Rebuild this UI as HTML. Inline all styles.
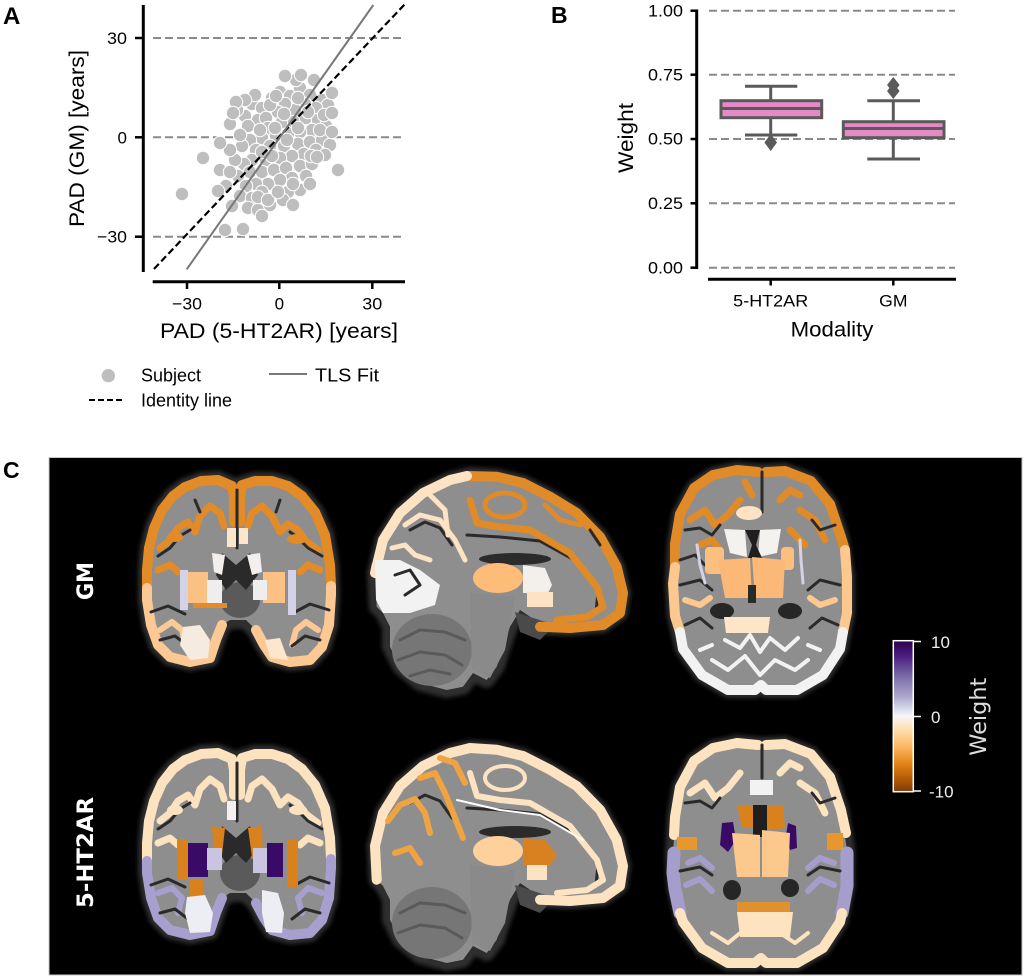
<!DOCTYPE html>
<html><head><meta charset="utf-8"><style>html,body{margin:0;padding:0;background:#fff;}svg{display:block;}</style></head>
<body>
<svg width="1024" height="978" viewBox="0 0 1024 978" xmlns="http://www.w3.org/2000/svg" font-family="'Liberation Sans', Arial, sans-serif">
<defs>
<linearGradient id="cb" x1="0" y1="0" x2="0" y2="1">
 <stop offset="0" stop-color="#2d004b"/>
 <stop offset="0.1" stop-color="#4a1d80"/>
 <stop offset="0.25" stop-color="#8073ac"/>
 <stop offset="0.38" stop-color="#b2abd2"/>
 <stop offset="0.45" stop-color="#d8daeb"/>
 <stop offset="0.5" stop-color="#f7f7f7"/>
 <stop offset="0.58" stop-color="#fee0b6"/>
 <stop offset="0.7" stop-color="#fdb863"/>
 <stop offset="0.82" stop-color="#e08214"/>
 <stop offset="0.92" stop-color="#b35806"/>
 <stop offset="1" stop-color="#7f3b08"/>
</linearGradient>
<filter id="bl" x="-10%" y="-10%" width="120%" height="120%"><feGaussianBlur stdDeviation="2"/></filter>
<path id="cor" d="M236,497 L232,486 L218,480 L201,481 L185,487 L173,496 L162,510 L154,528 L149,548 L147,570 L147,600 L151,625 L158,645 L170,657 L190,662 L210,658 L216,640 L222,625 L230,620 L246,620 L256,630 L264,645 L272,657 L290,662 L310,660 L322,647 L329,625 L331,595 L330,565 L325,535 L315,512 L302,496 L288,486 L272,481 L255,481 L242,485 L238,497 Z"/>
<path id="sag" d="M376.7,606.7 L375,573 L383,540 L400,513 L423,493 L450,480 L470,475 L496.7,476.7 L523,483 L550,496.7 L576.7,513 L600,536.7 L616.7,566.7 L623,593 L620,613 L603,625 L570,628 L540,626.7 L530,616.7 L520,610 L510,626.7 L503,646.7 L496.7,666.7 L486.7,680 L473,673 L463,686.7 L446.7,690 L420,683 L400,666.7 L390,646.7 L390,626.7 L383,613 Z"/>
<path id="axi" d="M758,472 L737,470 L713,475 L694,488 L680,514 L675,544 L673,583.5 L675,616 L683,649 L702,675 L728,690 L755,690 L761,685 L766,690 L797,690 L823,675 L840,649 L847,613 L847,577 L841,537 L830,504 L811,481 L785,471 L766,472 Z"/>
</defs>
<rect width="1024" height="978" fill="#fff"/>

<!-- ============ PANEL A ============ -->
<text x="3" y="24" font-weight="bold" font-size="24" fill="#000">A</text>
<g stroke="#8a8a8a" stroke-width="2" stroke-dasharray="8,4">
<line x1="153" y1="38" x2="405" y2="38"/>
<line x1="153" y1="137.3" x2="405" y2="137.3"/>
<line x1="153" y1="236.7" x2="405" y2="236.7"/>
</g>
<g fill="#bebebe" stroke="#fff" stroke-width="1">
<circle cx="252" cy="104" r="6.7"/><circle cx="262" cy="108" r="6.7"/><circle cx="245" cy="116" r="6.7"/><circle cx="258" cy="120" r="6.7"/><circle cx="248" cy="126" r="6.7"/><circle cx="266" cy="118" r="6.7"/><circle cx="272" cy="98" r="6.7"/><circle cx="280" cy="92" r="6.7"/><circle cx="290" cy="96" r="6.7"/><circle cx="300" cy="88" r="6.7"/><circle cx="310" cy="95" r="6.7"/><circle cx="322" cy="100" r="6.7"/><circle cx="328" cy="105" r="6.7"/><circle cx="316" cy="108" r="6.7"/><circle cx="305" cy="104" r="6.7"/><circle cx="295" cy="110" r="6.7"/><circle cx="285" cy="104" r="6.7"/><circle cx="278" cy="112" r="6.7"/><circle cx="268" cy="128" r="6.7"/><circle cx="282" cy="122" r="6.7"/><circle cx="294" cy="122" r="6.7"/><circle cx="306" cy="118" r="6.7"/><circle cx="318" cy="120" r="6.7"/><circle cx="326" cy="126" r="6.7"/><circle cx="312" cy="130" r="6.7"/><circle cx="300" cy="132" r="6.7"/><circle cx="288" cy="134" r="6.7"/><circle cx="276" cy="136" r="6.7"/><circle cx="262" cy="138" r="6.7"/><circle cx="250" cy="140" r="6.7"/><circle cx="242" cy="146" r="6.7"/><circle cx="256" cy="150" r="6.7"/><circle cx="270" cy="146" r="6.7"/><circle cx="284" cy="146" r="6.7"/><circle cx="298" cy="144" r="6.7"/><circle cx="310" cy="142" r="6.7"/><circle cx="322" cy="140" r="6.7"/><circle cx="316" cy="150" r="6.7"/><circle cx="304" cy="154" r="6.7"/><circle cx="292" cy="156" r="6.7"/><circle cx="280" cy="158" r="6.7"/><circle cx="266" cy="160" r="6.7"/><circle cx="252" cy="160" r="6.7"/><circle cx="244" cy="164" r="6.7"/><circle cx="238" cy="176" r="6.7"/><circle cx="250" cy="172" r="6.7"/><circle cx="262" cy="172" r="6.7"/><circle cx="274" cy="170" r="6.7"/><circle cx="286" cy="168" r="6.7"/><circle cx="300" cy="166" r="6.7"/><circle cx="312" cy="164" r="6.7"/><circle cx="306" cy="176" r="6.7"/><circle cx="292" cy="178" r="6.7"/><circle cx="280" cy="180" r="6.7"/><circle cx="268" cy="184" r="6.7"/><circle cx="256" cy="184" r="6.7"/><circle cx="246" cy="186" r="6.7"/><circle cx="240" cy="196" r="6.7"/><circle cx="252" cy="198" r="6.7"/><circle cx="300" cy="190" r="6.7"/><circle cx="310" cy="184" r="6.7"/><circle cx="288" cy="192" r="6.7"/><circle cx="275" cy="128" r="6.7"/><circle cx="287" cy="140" r="6.7"/><circle cx="260" cy="130" r="6.7"/><circle cx="235" cy="160" r="6.7"/><circle cx="230" cy="150" r="6.7"/><circle cx="314" cy="80" r="6.7"/><circle cx="296" cy="80" r="6.7"/><circle cx="324" cy="115" r="6.7"/><circle cx="270" cy="105" r="6.7"/><circle cx="255" cy="95" r="6.7"/><circle cx="245" cy="100" r="6.7"/><circle cx="320" cy="130" r="6.7"/><circle cx="330" cy="145" r="6.7"/><circle cx="262" cy="192" r="6.7"/><circle cx="272" cy="156" r="6.7"/><circle cx="284" cy="114" r="6.7"/><circle cx="298" cy="98" r="6.7"/><circle cx="308" cy="112" r="6.7"/><circle cx="240" cy="135" r="6.7"/><circle cx="226" cy="186" r="6.7"/><circle cx="232" cy="206" r="6.7"/><circle cx="248" cy="208" r="6.7"/><circle cx="258" cy="210" r="6.7"/><circle cx="270" cy="205" r="6.7"/><circle cx="283" cy="200" r="6.7"/><circle cx="230" cy="124" r="6.7"/><circle cx="237" cy="110" r="6.7"/><circle cx="262" cy="152" r="6.7"/><circle cx="298" cy="128" r="6.7"/><circle cx="276" cy="96" r="6.7"/><circle cx="311" cy="156" r="6.7"/><circle cx="325" cy="155" r="6.7"/>
<circle cx="182" cy="194" r="6.7"/><circle cx="203" cy="158" r="6.7"/><circle cx="218" cy="191" r="6.7"/><circle cx="225" cy="230" r="6.7"/><circle cx="243" cy="229" r="6.7"/><circle cx="262" cy="216" r="6.7"/><circle cx="293" cy="205" r="6.7"/><circle cx="338" cy="170" r="6.7"/><circle cx="220" cy="143" r="6.7"/><circle cx="236" cy="102" r="6.7"/><circle cx="233" cy="113" r="6.7"/><circle cx="285" cy="76" r="6.7"/><circle cx="301" cy="75" r="6.7"/><circle cx="332" cy="93" r="6.7"/><circle cx="332" cy="113" r="6.7"/><circle cx="332" cy="132" r="6.7"/><circle cx="317" cy="157" r="6.7"/><circle cx="293" cy="184" r="6.7"/><circle cx="220" cy="170" r="6.7"/><circle cx="230" cy="172" r="6.7"/><circle cx="258" cy="197" r="6.7"/><circle cx="268" cy="200" r="6.7"/><circle cx="278" cy="192" r="6.7"/>
</g>
<line x1="154" y1="269" x2="405" y2="4" stroke="#000" stroke-width="2.2" stroke-dasharray="7,3.5"/>
<line x1="186.7" y1="269.3" x2="373.3" y2="5" stroke="#777" stroke-width="2"/>
<line x1="143.3" y1="5" x2="143.3" y2="272" stroke="#000" stroke-width="3"/>
<line x1="152.7" y1="281.7" x2="405" y2="281.7" stroke="#000" stroke-width="3"/>
<g stroke="#000" stroke-width="2.5">
<line x1="135" y1="38" x2="143" y2="38"/><line x1="135" y1="137.3" x2="143" y2="137.3"/><line x1="135" y1="236.7" x2="143" y2="236.7"/>
<line x1="187" y1="281.7" x2="187" y2="289"/><line x1="279.3" y1="281.7" x2="279.3" y2="289"/><line x1="372.3" y1="281.7" x2="372.3" y2="289"/>
</g>
<g font-size="17" fill="#000">
<text x="127" y="44" text-anchor="end" textLength="20" lengthAdjust="spacingAndGlyphs">30</text>
<text x="127" y="143.3" text-anchor="end">0</text>
<text x="127" y="242.7" text-anchor="end" textLength="30" lengthAdjust="spacingAndGlyphs">−30</text>
<text x="187" y="309.5" text-anchor="middle" textLength="30" lengthAdjust="spacingAndGlyphs">−30</text>
<text x="279.3" y="309.5" text-anchor="middle">0</text>
<text x="372.3" y="309.5" text-anchor="middle" textLength="20" lengthAdjust="spacingAndGlyphs">30</text>
</g>
<text x="160" y="338" font-size="21.5" textLength="238" lengthAdjust="spacingAndGlyphs">PAD (5-HT2AR) [years]</text>
<text transform="translate(84,227) rotate(-90)" font-size="21.5" textLength="177" lengthAdjust="spacingAndGlyphs">PAD (GM) [years]</text>
<circle cx="108.3" cy="375.7" r="6.7" fill="#bebebe"/>
<text x="141" y="381.7" font-size="18" textLength="60" lengthAdjust="spacingAndGlyphs">Subject</text>
<line x1="269" y1="374" x2="307" y2="374" stroke="#777" stroke-width="2"/>
<text x="315" y="381.7" font-size="18" textLength="64" lengthAdjust="spacingAndGlyphs">TLS Fit</text>
<line x1="89" y1="400" x2="125" y2="400" stroke="#000" stroke-width="2" stroke-dasharray="6,3"/>
<text x="141" y="406.5" font-size="18" textLength="91" lengthAdjust="spacingAndGlyphs">Identity line</text>

<!-- ============ PANEL B ============ -->
<text x="551" y="23" font-weight="bold" font-size="23" fill="#000">B</text>
<g stroke="#8a8a8a" stroke-width="2" stroke-dasharray="8,4">
<line x1="709" y1="10.7" x2="955" y2="10.7"/>
<line x1="709" y1="74.7" x2="955" y2="74.7"/>
<line x1="709" y1="139" x2="955" y2="139"/>
<line x1="709" y1="203.3" x2="955" y2="203.3"/>
<line x1="709" y1="267.7" x2="955" y2="267.7"/>
</g>
<line x1="696.7" y1="9.5" x2="696.7" y2="269" stroke="#000" stroke-width="3"/>
<line x1="708" y1="279.3" x2="956" y2="279.3" stroke="#000" stroke-width="3"/>
<g stroke="#000" stroke-width="2.5">
<line x1="690.5" y1="10.7" x2="696.7" y2="10.7"/><line x1="690.5" y1="74.7" x2="696.7" y2="74.7"/><line x1="690.5" y1="139" x2="696.7" y2="139"/><line x1="690.5" y1="203.3" x2="696.7" y2="203.3"/><line x1="690.5" y1="267.7" x2="696.7" y2="267.7"/>
<line x1="770.7" y1="279.3" x2="770.7" y2="285.5"/><line x1="893.3" y1="279.3" x2="893.3" y2="285.5"/>
</g>
<g font-size="16.5" fill="#000" text-anchor="end">
<text x="683" y="16.4" textLength="35" lengthAdjust="spacingAndGlyphs">1.00</text>
<text x="683" y="80.4" textLength="35" lengthAdjust="spacingAndGlyphs">0.75</text>
<text x="683" y="144.7" textLength="35" lengthAdjust="spacingAndGlyphs">0.50</text>
<text x="683" y="209" textLength="35" lengthAdjust="spacingAndGlyphs">0.25</text>
<text x="683" y="273.4" textLength="35" lengthAdjust="spacingAndGlyphs">0.00</text>
</g>
<text x="733.2" y="306.7" font-size="16.5" textLength="75" lengthAdjust="spacingAndGlyphs">5-HT2AR</text>
<text x="879.2" y="306.7" font-size="16.5" textLength="28.3" lengthAdjust="spacingAndGlyphs">GM</text>
<text x="790.7" y="336.7" font-size="21.5" textLength="82.7" lengthAdjust="spacingAndGlyphs">Modality</text>
<text transform="translate(633,173) rotate(-90)" font-size="21.5" textLength="70" lengthAdjust="spacingAndGlyphs">Weight</text>
<g stroke="#5a5a5a" stroke-width="3" fill="none">
<line x1="770.7" y1="86.3" x2="770.7" y2="100.7"/><line x1="770.7" y1="117.7" x2="770.7" y2="135"/>
<line x1="745" y1="86.3" x2="797.3" y2="86.3"/><line x1="745" y1="135" x2="797.3" y2="135"/>
<rect x="721" y="100.7" width="100.7" height="17" fill="#e58ac6"/>
<line x1="721" y1="108.5" x2="821.7" y2="108.5"/>
<line x1="893.3" y1="100.7" x2="893.3" y2="121.7"/><line x1="893.3" y1="137.7" x2="893.3" y2="159"/>
<line x1="867.3" y1="100.7" x2="920" y2="100.7"/><line x1="867.3" y1="159" x2="920" y2="159"/>
<rect x="843.3" y="121.7" width="100.7" height="16" fill="#e58ac6"/>
<line x1="843.3" y1="128.5" x2="944" y2="128.5"/>
</g>
<g fill="#5a5a5a">
<polygon points="770.7,134 777,142.5 770.7,151 764.4,142.5"/>
<polygon points="893.3,77 899.6,85 893.3,93 887,85"/>
<polygon points="893.3,83 899.6,91 893.3,99 887,91"/>
</g>

<!-- ============ PANEL C ============ -->
<text x="3" y="478" font-weight="bold" font-size="23" fill="#000">C</text>
<rect x="49" y="457.5" width="973" height="517.5" fill="#000" stroke="#c8c8c8" stroke-width="1"/>

<text transform="translate(93,600) rotate(-90)" font-family="'DejaVu Sans', sans-serif" font-weight="bold" font-size="22" fill="#fff" textLength="38" lengthAdjust="spacingAndGlyphs">GM</text>
<text transform="translate(93,908) rotate(-90)" font-family="'DejaVu Sans', sans-serif" font-weight="bold" font-size="22" fill="#fff" textLength="111" lengthAdjust="spacingAndGlyphs">5-HT2AR</text>

<rect x="893.3" y="640.7" width="20" height="151" fill="url(#cb)" stroke="#fff" stroke-width="1.5"/>
<g stroke="#fff" stroke-width="1.5">
<line x1="913.3" y1="641.5" x2="921" y2="641.5"/><line x1="913.3" y1="716.5" x2="921" y2="716.5"/><line x1="913.3" y1="791" x2="921" y2="791"/>
</g>
<g font-size="17" fill="#eee">
<text x="931" y="648">10</text>
<text x="931" y="723">0</text>
<text x="929" y="797.5">-10</text>
</g>
<text transform="translate(986,755.7) rotate(-90)" font-family="'DejaVu Sans', sans-serif" font-size="22" fill="#ddd" textLength="78" lengthAdjust="spacingAndGlyphs">Weight</text>

<!-- ===== TOP CORONAL (GM) ===== -->
<g stroke-linejoin="round" stroke-linecap="round">
<use href="#cor" fill="none" stroke="#2e2e2e" stroke-width="18" filter="url(#bl)"/>
<use href="#cor" fill="#8e8e8e"/>
<ellipse cx="240" cy="600" rx="20" ry="18" fill="#5a5a5a"/>
<g fill="none" stroke-width="10">
<polyline stroke="#e38b27" points="147,588 147,570 149,548 154,528 162,510 173,496 185,487 201,481 218,480 232,486 234,497 234,522"/>
<polyline stroke="#e38b27" points="240,522 240,497 242,485 255,481 272,481 288,486 302,496 315,512 325,535 330,565 331,586"/>
<polyline stroke="#fcc994" points="147,588 147,600 151,625 158,645 170,657 190,662 210,658 216,640 222,625"/>
<polyline stroke="#fcc994" points="331,586 331,595 329,625 322,647 310,660 290,662 272,657 264,645 256,630"/>
</g>
<g fill="none" stroke="#e38b27" stroke-width="7">
<polyline points="160,548 170,540 178,528 188,522 195,532 200,516 210,506 220,513 224,526"/>
<polyline points="318,550 306,541 298,530 288,524 280,532 272,516 262,506 252,513 248,526"/>
<polyline points="158,570 170,565 178,572"/>
<polyline points="320,570 308,565 300,572"/>
</g>
<g fill="none" stroke="#fcc994" stroke-width="6">
<polyline points="160,630 172,622 182,630 185,645"/>
<polyline points="318,630 306,622 296,630 292,645"/>
</g>
<g fill="none" stroke="#2a2a2a" stroke-width="3">
<polyline points="237,490 237,548"/>
<polyline points="158,556 170,548 180,536 190,530"/>
<polyline points="322,556 308,548 298,538 290,532"/>
<polyline points="151,612 168,606 185,614"/>
<polyline points="329,610 310,604 295,612"/>
<polyline points="160,640 175,636 188,646"/>
<polyline points="320,640 305,636 292,646"/>
<polyline points="195,500 200,512"/>
<polyline points="280,500 276,512"/>
</g>
<ellipse cx="297" cy="539" rx="10" ry="5" fill="#e38b27"/>
<ellipse cx="175" cy="537" rx="8" ry="5" fill="#e38b27"/>
<rect x="227" y="528" width="9" height="19" fill="#fde6cc"/>
<rect x="239" y="528" width="9" height="16" fill="#fde6cc"/>
<polygon points="222,553 236,565 250,553 258,575 246,590 236,580 226,590 216,575" fill="#2a2a2a"/>
<polygon points="212,553 225,555 222,575 214,572" fill="#f2efec"/>
<polygon points="247,555 260,553 262,572 252,575" fill="#f2efec"/>
<rect x="188" y="572" width="20" height="31" fill="#fbc184"/>
<rect x="263" y="572" width="22" height="31" fill="#fbc184"/>
<rect x="207" y="580" width="15" height="23" fill="#efeeee"/>
<rect x="253" y="580" width="14" height="20" fill="#efeeee"/>
<rect x="180" y="570" width="8" height="40" fill="#d4d2e6"/>
<rect x="288" y="570" width="8" height="45" fill="#d4d2e6"/>
<rect x="193" y="603" width="34" height="5" fill="#e38b27"/>
<polygon points="183,627 200,625 210,640 208,658 190,660 180,645" fill="#f6ebe0"/>
<polygon points="265,640 280,638 288,660 270,658" fill="#fde6cc"/>
</g>

<!-- ===== BOTTOM CORONAL (5-HT2AR) ===== -->
<g transform="translate(0,273)" stroke-linejoin="round" stroke-linecap="round">
<use href="#cor" fill="none" stroke="#2e2e2e" stroke-width="18" filter="url(#bl)"/>
<use href="#cor" fill="#8e8e8e"/>
<ellipse cx="240" cy="600" rx="20" ry="18" fill="#5a5a5a"/>
<g fill="none" stroke-width="10">
<polyline stroke="#fde2bf" points="147,588 147,570 149,548 154,528 162,510 173,496 185,487 201,481 218,480 232,486 234,497 234,522"/>
<polyline stroke="#fde2bf" points="240,522 240,497 242,485 255,481 272,481 288,486 302,496 315,512 325,535 330,565 331,586"/>
<polyline stroke="#a7a0cf" points="147,588 147,600 151,625 158,645 170,657 190,662 210,658 216,640 222,625"/>
<polyline stroke="#a7a0cf" points="331,586 331,595 329,625 322,647 310,660 290,662 272,657 264,645 256,630"/>
</g>
<g fill="none" stroke="#fde2bf" stroke-width="7">
<polyline points="160,548 170,540 178,528 188,522 195,532 200,516 210,506 220,513 224,526"/>
<polyline points="318,550 306,541 298,530 288,524 280,532 272,516 262,506 252,513 248,526"/>
<polyline points="158,570 170,565 178,572"/>
<polyline points="320,570 308,565 300,572"/>
</g>
<g fill="none" stroke="#a7a0cf" stroke-width="6">
<polyline points="158,620 172,615 182,625 178,640"/>
<polyline points="322,620 308,615 298,625 302,640"/>
</g>
<g fill="none" stroke="#2a2a2a" stroke-width="3">
<polyline points="237,490 237,548"/>
<polyline points="158,556 170,548 180,536 190,530"/>
<polyline points="322,556 308,548 298,538 290,532"/>
<polyline points="151,612 168,606 185,614"/>
<polyline points="329,610 310,604 295,612"/>
<polyline points="160,640 175,636 188,646"/>
<polyline points="320,640 305,636 292,646"/>
</g>
<ellipse cx="298" cy="537" rx="9" ry="5" fill="#fde2bf"/>
<ellipse cx="175" cy="537" rx="8" ry="5" fill="#fde2bf"/>
<rect x="227" y="528" width="9" height="19" fill="#f4f0ec"/>
<polygon points="222,553 236,565 250,553 258,575 246,590 236,580 226,590 216,575" fill="#2a2a2a"/>
<polygon points="212,553 225,555 222,582 214,579" fill="#d9821d"/>
<polygon points="248,555 262,553 263,582 252,584" fill="#d9821d"/>
<rect x="188" y="570" width="20" height="34" fill="#3a0b66"/>
<rect x="267" y="570" width="16" height="34" fill="#3a0b66"/>
<rect x="207" y="575" width="15" height="22" fill="#c9c5e1"/>
<rect x="253" y="575" width="14" height="25" fill="#c9c5e1"/>
<rect x="177" y="567" width="11" height="40" fill="#d9821d"/>
<rect x="287" y="567" width="11" height="47" fill="#d9821d"/>
<rect x="190" y="607" width="13" height="17" fill="#d9821d"/>
<polygon points="187,624 205,622 213,640 210,659 190,660 185,640" fill="#eceef4"/>
<polygon points="262,617 278,620 284,640 282,660 266,659 262,640" fill="#eceef4"/>
</g>

<!-- ===== TOP SAGITTAL (GM) ===== -->
<g stroke-linejoin="round" stroke-linecap="round">
<use href="#sag" fill="none" stroke="#2e2e2e" stroke-width="16" filter="url(#bl)"/>
<use href="#sag" fill="#8e8e8e"/>
<ellipse cx="432" cy="650" rx="40" ry="36" fill="#767676"/>
<polygon points="470,592 515,597 505,650 490,678 472,670" fill="#8a8a8a"/>
<g fill="none" stroke="#5a5a5a" stroke-width="3">
<polyline points="400,640 420,630 445,632 465,640"/>
<polyline points="398,660 420,652 445,655 462,665"/>
<polyline points="410,676 430,670 450,674"/>
</g>
<polygon points="515,612 555,625 540,640 520,632" fill="#4a4a4a"/>
<g fill="none" stroke-width="10">
<polyline stroke="#e08a28" points="467,476 496.7,476.7 523,483 550,496.7 576.7,513 600,536.7 616.7,566.7 623,593 620,613 603,625 570,628 540,626.7"/>
<polyline stroke="#fde3c4" points="376.7,565 375,573 383,540 400,513 423,493 450,480 467,476"/>
</g>
<polygon points="375,560 400,560 420,570 440,585 435,605 410,613 383,613 376,600" fill="#f2f2f2"/>
<g fill="none" stroke="#2a2a2a" stroke-width="3">
<polyline points="467,535 500,537 540,541 580,563 598,592 596,612"/>
<polyline points="395,575 410,570 420,585 405,595"/>
<polyline points="410,530 425,522 440,528 452,545"/>
<polyline points="590,530 600,545"/>
</g>
<polyline fill="none" stroke="#e08a28" stroke-width="7" points="470,500 477,523 500,527 530,530 570,553 597,587 603,607 587,617 557,620"/>
<ellipse cx="505" cy="505" rx="20" ry="12" fill="none" stroke="#e08a28" stroke-width="5"/>
<polyline fill="none" stroke="#e08a28" stroke-width="5" points="545,505 560,520 580,525"/>
<g fill="none" stroke="#fde3c4" stroke-width="5">
<polyline points="405,525 420,515 440,520 455,540 465,560"/>
<polyline points="430,495 445,510 448,535"/>
<polyline points="392,548 405,545 415,555 430,560"/>
</g>
<ellipse cx="515" cy="559" rx="36" ry="6" fill="#2b2b2b"/>
<ellipse cx="498" cy="578" rx="25" ry="15" fill="#fdbd78"/>
<polygon points="523,565 545,568 552,585 548,593 523,593" fill="#f3f0ec"/>
<rect x="527" y="592" width="26" height="15" fill="#fde3c4"/>
</g>

<!-- ===== BOTTOM SAGITTAL (5-HT2AR) ===== -->
<g transform="translate(0,273)" stroke-linejoin="round" stroke-linecap="round">
<use href="#sag" fill="none" stroke="#2e2e2e" stroke-width="16" filter="url(#bl)"/>
<use href="#sag" fill="#8e8e8e"/>
<ellipse cx="432" cy="650" rx="40" ry="36" fill="#767676"/>
<polygon points="470,592 515,597 505,650 490,678 472,670" fill="#8a8a8a"/>
<g fill="none" stroke="#5a5a5a" stroke-width="3">
<polyline points="400,640 420,630 445,632 465,640"/>
<polyline points="398,660 420,652 445,655 462,665"/>
</g>
<polygon points="515,612 555,625 540,640 520,632" fill="#4a4a4a"/>
<polyline fill="none" stroke="#fde3c2" stroke-width="10" points="376.7,606.7 375,573 383,540 400,513 423,493 450,480 470,475 496.7,476.7 523,483 550,496.7 576.7,513 600,536.7 616.7,566.7 623,593 620,613 603,625 570,628 540,626.7"/>
<g fill="none" stroke="#2a2a2a" stroke-width="3">
<polyline points="467,535 500,537 540,541 580,563 598,592 596,612"/>
<polyline points="410,530 425,522 440,528 452,545"/>
</g>
<polyline fill="none" stroke="#fde3c2" stroke-width="6" points="470,500 477,523 500,527 530,530 570,553 597,587 603,607 587,617 557,620"/>
<ellipse cx="505" cy="505" rx="20" ry="12" fill="none" stroke="#fde3c2" stroke-width="4"/>
<g fill="none" stroke="#f0a341" stroke-width="6">
<polyline points="388,548 400,532 415,526 425,540 430,560"/>
<polyline points="420,505 435,500 445,520 455,545 463,565"/>
<polyline points="440,485 455,490 465,510"/>
<polyline points="395,580 410,575 420,590"/>
</g>
<polyline fill="none" stroke="#fff" stroke-width="2" points="457,527 500,537 540,542 583,567"/>
<ellipse cx="515" cy="559" rx="36" ry="6" fill="#2b2b2b"/>
<ellipse cx="498" cy="578" rx="25" ry="15" fill="#fdd09c"/>
<polygon points="523,565 545,567 557,582 550,593 523,593" fill="#d98020"/>
<rect x="527" y="592" width="20" height="15" fill="#fde3c2"/>
</g>

<!-- ===== TOP AXIAL (GM) ===== -->
<g stroke-linejoin="round" stroke-linecap="round">
<use href="#axi" fill="none" stroke="#2e2e2e" stroke-width="16" filter="url(#bl)"/>
<use href="#axi" fill="#8e8e8e"/>
<g fill="none" stroke-width="10">
<polyline stroke="#e08a28" points="675,567 675,544 680,514 694,488 713,475 737,470 758,472"/>
<polyline stroke="#e08a28" points="766,472 785,471 811,481 830,504 841,537 845,550"/>
<polyline stroke="#fcc890" points="675,567 673,583.5 675,616 680,632"/>
<polyline stroke="#fcc890" points="845,550 847,577 847,613 843,632"/>
<polyline stroke="#f2f2f2" points="680,632 683,649 702,675 728,690 755,690 761,685 766,690 797,690 823,675 840,649 843,632"/>
</g>
<g fill="none" stroke="#e08a28" stroke-width="7">
<polyline points="690,520 705,510 715,525 728,515 740,500"/>
<polyline points="700,545 712,540 720,550"/>
<polyline points="800,510 815,520 825,540"/>
<polyline points="790,530 805,545"/>
<polyline points="780,500 790,490 800,495"/>
<polyline points="745,482 752,495"/>
</g>
<g fill="none" stroke="#2a2a2a" stroke-width="3">
<polyline points="762,472 762,512"/>
<polyline points="685,530 700,528 712,535 720,525"/>
<polyline points="680,560 695,555 705,565"/>
<polyline points="835,525 820,530 812,520"/>
<polyline points="680,585 700,580 712,590"/>
<polyline points="840,585 820,580 808,590"/>
<polyline points="685,625 700,618 712,628"/>
<polyline points="838,625 822,618 810,628"/>
</g>
<g fill="none" stroke="#fcc890" stroke-width="6">
<polyline points="685,600 700,605 710,598"/>
<polyline points="835,600 820,605 810,598"/>
</g>
<ellipse cx="749" cy="513" rx="13" ry="7" fill="#fde3c4"/>
<polygon points="724,529 745,530 747,557 730,553" fill="#f4f2ef"/>
<polygon points="760,530 781,529 777,553 758,557" fill="#f4f2ef"/>
<polygon points="745,530 760,530 756,545 762,558 748,558 752,545" fill="#1f1f1f"/>
<ellipse cx="722" cy="611" rx="12" ry="8" fill="#262626"/>
<ellipse cx="790" cy="611" rx="12" ry="8" fill="#262626"/>
<rect x="705" y="547" width="19" height="27" rx="4" fill="#fbbf80"/>
<rect x="781" y="547" width="13" height="23" rx="4" fill="#fbbf80"/>
<polygon points="718,560 750,558 752,598 725,598" fill="#fbb877"/>
<polygon points="752,557 785,560 783,598 755,598" fill="#fbb877"/>
<rect x="748" y="585" width="8" height="18" fill="#2a2a2a"/>
<g fill="none" stroke="#d5d2e6" stroke-width="3">
<polyline points="697,545 700,565 705,583"/>
<polyline points="800,540 801,560 803,583"/>
</g>
<polygon points="724,617 770,617 768,633 726,633" fill="#fde5c8"/>
<g fill="none" stroke="#f2f2f2" stroke-width="4">
<polyline points="725,640 740,648 750,635 760,652 770,638 785,650 798,638"/>
<polyline points="712,660 728,670 745,656 760,675 775,660 795,670 808,660"/>
<polyline points="700,650 712,645"/>
<polyline points="820,650 808,645"/>
</g>
</g>

<!-- ===== BOTTOM AXIAL (5-HT2AR) ===== -->
<g transform="translate(0,273)" stroke-linejoin="round" stroke-linecap="round">
<use href="#axi" fill="none" stroke="#2e2e2e" stroke-width="16" filter="url(#bl)"/>
<use href="#axi" fill="#8e8e8e"/>
<g fill="none" stroke-width="10">
<polyline stroke="#fde3c0" points="758,472 737,470 713,475 694,488 680,514 675,544 674,562"/>
<polyline stroke="#fde3c0" points="766,472 785,471 811,481 830,504 841,537 846,560"/>
<polyline stroke="#a59ecd" stroke-width="13" points="674,580 673,600 675,616 680,640"/>
<polyline stroke="#a59ecd" stroke-width="13" points="847,580 847,600 847,613 842,640"/>
<polyline stroke="#fde3c0" points="680,640 683,649 702,675 728,690 755,690 761,685 766,690 797,690 823,675 840,649 842,640"/>
</g>
<g fill="none" stroke="#a59ecd" stroke-width="6">
<polyline points="688,590 700,585 712,595"/>
<polyline points="686,612 700,606 712,618"/>
<polyline points="834,590 820,585 808,595"/>
<polyline points="834,612 820,606 808,618"/>
</g>
<g fill="none" stroke="#fde3c0" stroke-width="7">
<polyline points="690,520 705,510 715,525 728,515 740,500"/>
<polyline points="800,510 815,520 825,540"/>
<polyline points="780,500 790,490 800,495"/>
</g>
<g fill="none" stroke="#2a2a2a" stroke-width="3">
<polyline points="762,472 762,505"/>
<polyline points="685,530 700,528 712,535 720,525"/>
<polyline points="835,525 820,530 812,520"/>
<polyline points="680,598 700,594 712,602"/>
<polyline points="840,598 820,594 808,602"/>
</g>
<rect x="677" y="564" width="20" height="13" fill="#e8962e"/>
<rect x="827" y="560" width="16" height="17" fill="#e8962e"/>
<rect x="750" y="507" width="23" height="15" fill="#f2f2f2"/>
<polygon points="737,532 752,532 757,555 742,555" fill="#d9821d"/>
<polygon points="767,532 783,532 785,555 768,557" fill="#d9821d"/>
<rect x="753" y="532" width="14" height="32" fill="#1f1f1f"/>
<polygon points="722,550 733,549 736,567 728,579 720,572" fill="#3a0b66"/>
<polygon points="788,550 796,553 797,575 790,577 786,562" fill="#3a0b66"/>
<polygon points="732,560 760,562 760,604 737,604" fill="#fcc88c"/>
<polygon points="762,557 790,560 788,604 762,604" fill="#fcc88c"/>
<ellipse cx="732" cy="617" rx="9" ry="10" fill="#262626"/>
<ellipse cx="790" cy="615" rx="9" ry="9" fill="#262626"/>
<rect x="737" y="629" width="53" height="10" fill="#e0902c"/>
<polygon points="737,639 793,639 790,664 740,664" fill="#fde3c0"/>
<g fill="none" stroke="#fde3c0" stroke-width="4">
<polyline points="712,660 728,670 745,656"/>
<polyline points="780,660 795,670 808,660"/>
</g>
</g>
</svg>
</body></html>
